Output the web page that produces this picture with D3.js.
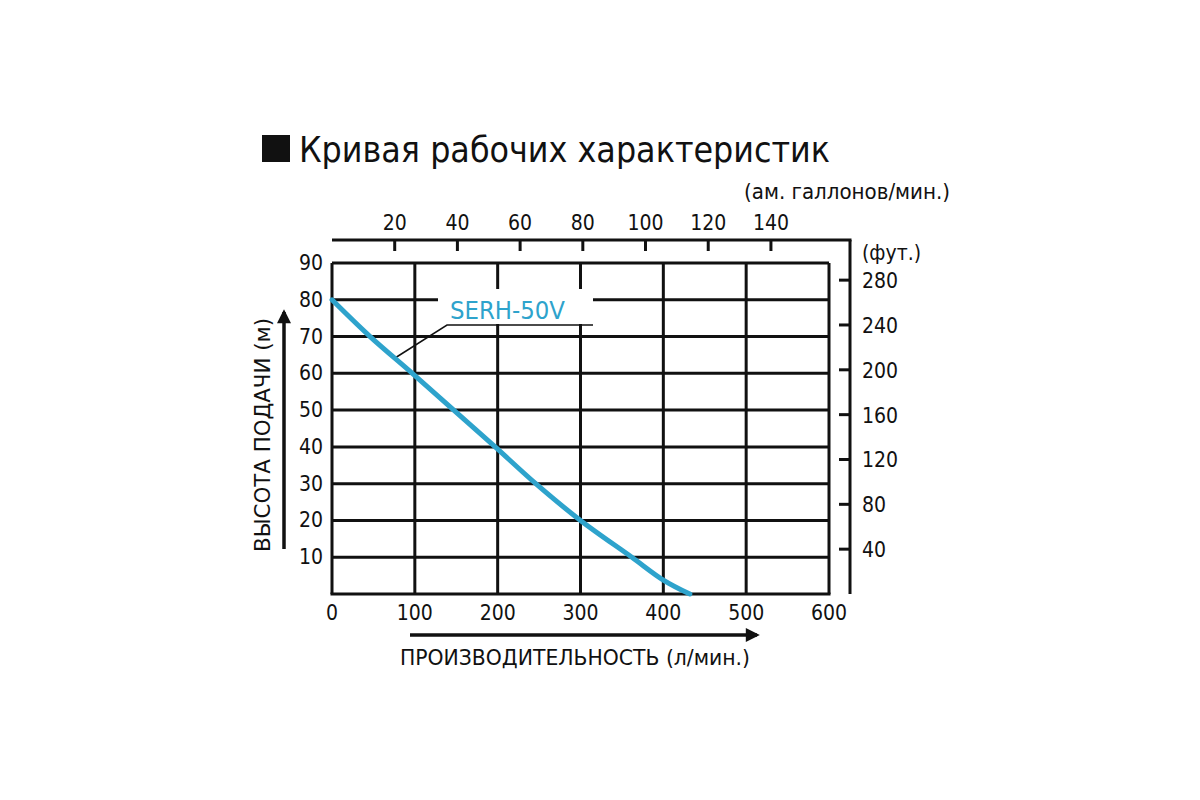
<!DOCTYPE html>
<html>
<head>
<meta charset="utf-8">
<script src="https://cdn.jsdelivr.net/npm/d3@7"></script>
<style>
  html, body { margin: 0; padding: 0; background: #fff; }
  svg text { font-family: "Liberation Sans Narrow", "DejaVu Sans Condensed", "Roboto Condensed", sans-serif; fill: #111; }
</style>
</head>
<body>
<div id="chart"></div>
<script>
// values
const flowLpm = [0, 46, 97, 147, 197, 246, 300, 362, 400, 432];
const headM = [80, 70, 60, 50, 40, 30, 20, 10, 3.8, 0];
const flowTicks = [0, 100, 200, 300, 400, 500, 600];
const headTicks = [10, 20, 30, 40, 50, 60, 70, 80, 90];
const galTicks = [20, 40, 60, 80, 100, 120, 140];
const feetTicks = [40, 80, 120, 160, 200, 240, 280];
const modelName = "SERH-50V";

const L_PER_GAL = 3.785;
const FT_PER_M = 3.281;

const W = 1200, H = 800;
const svg = d3.select("#chart").append("svg").attr("width", W).attr("height", H);

const x = d3.scaleLinear().domain([0, 600]).range([332, 829]);
const y = d3.scaleLinear().domain([0, 90]).range([594, 263]);
// secondary scales share the same origin
const xg = d3.scaleLinear().domain([0, 600 / L_PER_GAL]).range([332, 829]);
const yf = d3.scaleLinear().domain([0, 90 * FT_PER_M]).range([594, 263]);

const ink = "#111";
const blue = "#2ea3cc";

// title
svg.append("rect").attr("x", 262).attr("y", 135).attr("width", 28).attr("height", 27).attr("fill", ink);
svg.append("text").attr("x", 299).attr("y", 162).style("font-size", "35px")
  .attr("textLength", 531).attr("lengthAdjust", "spacingAndGlyphs")
  .text("Кривая рабочих характеристик");

// grid
const grid = svg.append("g");
grid.selectAll("line.h").data(headTicks).enter().append("line")
  .attr("x1", x(0)).attr("x2", x(600))
  .attr("y1", d => y(d)).attr("y2", d => y(d))
  .attr("stroke", ink).attr("stroke-width", 3);
grid.selectAll("line.v").data(flowTicks).enter().append("line")
  .attr("x1", d => x(d)).attr("x2", d => x(d))
  .attr("y1", y(0)).attr("y2", y(90))
  .attr("stroke", ink).attr("stroke-width", 3);
grid.append("line").attr("x1", x(0) - 1.5).attr("x2", x(600) + 1.5)
  .attr("y1", y(0)).attr("y2", y(0)).attr("stroke", ink).attr("stroke-width", 3);

// left labels (m)
svg.selectAll("text.ym").data(headTicks).enter().append("text")
  .attr("x", 323).attr("y", d => y(d) + 7)
  .attr("text-anchor", "end").style("font-size", "21px").text(d => d);

// bottom labels (l/min)
svg.selectAll("text.xl").data(flowTicks).enter().append("text")
  .attr("x", d => x(d)).attr("y", 620)
  .attr("text-anchor", "middle").style("font-size", "21px").text(d => d);

// top gallon axis
const topY = 240;
svg.append("line").attr("x1", x(0)).attr("x2", 851.5).attr("y1", topY).attr("y2", topY)
  .attr("stroke", ink).attr("stroke-width", 3);
svg.selectAll("line.gt").data(galTicks).enter().append("line")
  .attr("x1", d => xg(d)).attr("x2", d => xg(d))
  .attr("y1", topY).attr("y2", topY + 11)
  .attr("stroke", ink).attr("stroke-width", 3);
svg.selectAll("text.gl").data(galTicks).enter().append("text")
  .attr("x", d => xg(d)).attr("y", 230)
  .attr("text-anchor", "middle").style("font-size", "21px").text(d => d);
svg.append("text").attr("x", 950).attr("y", 199).attr("text-anchor", "end")
  .style("font-size", "22px").attr("textLength", 206).attr("lengthAdjust", "spacingAndGlyphs")
  .text("(ам. галлонов/мин.)");

// right feet axis
const rightX = 850;
svg.append("line").attr("x1", rightX).attr("x2", rightX).attr("y1", topY).attr("y2", y(0))
  .attr("stroke", ink).attr("stroke-width", 3);
svg.selectAll("line.ft").data(feetTicks).enter().append("line")
  .attr("x1", rightX - 11).attr("x2", rightX)
  .attr("y1", d => yf(d)).attr("y2", d => yf(d))
  .attr("stroke", ink).attr("stroke-width", 3);
svg.selectAll("text.fl").data(feetTicks).enter().append("text")
  .attr("x", 862).attr("y", d => yf(d) + 8)
  .style("font-size", "21px").text(d => d);
svg.append("text").attr("x", 862).attr("y", 260).style("font-size", "21px").text("(фут.)");

// model label with white backing (cuts the grid)
svg.append("rect").attr("x", 438).attr("y", 289).attr("width", 155).attr("height", 35).attr("fill", "#fff");
svg.append("text").attr("x", 450).attr("y", 319).style("font-size", "25px")
  .attr("textLength", 115).attr("lengthAdjust", "spacingAndGlyphs")
  .style("fill", blue).text(modelName);
svg.append("polyline")
  .attr("points", "593,325 447,325 395,358")
  .attr("fill", "none").attr("stroke", ink).attr("stroke-width", 1.5);

// curve
const pts = flowLpm.map((f, i) => [f, headM[i]]);
svg.append("path").datum(pts)
  .attr("d", d3.line().x(d => x(d[0])).y(d => y(d[1])).curve(d3.curveCatmullRom.alpha(0.5)))
  .attr("fill", "none").attr("stroke", blue).attr("stroke-width", 5).attr("stroke-linecap", "round");

// axis arrows
const defs = svg.append("defs");
defs.append("marker").attr("id", "ah").attr("viewBox", "0 0 10 10")
  .attr("refX", 8).attr("refY", 5).attr("markerWidth", 6).attr("markerHeight", 4)
  .attr("markerUnits", "strokeWidth").attr("orient", "auto")
  .append("path").attr("d", "M0,0 L10,5 L0,10 z").attr("fill", ink);

svg.append("line").attr("x1", 284).attr("x2", 284).attr("y1", 549).attr("y2", 312)
  .attr("stroke", ink).attr("stroke-width", 3.5).attr("marker-end", "url(#ah)");
svg.append("text").attr("transform", "translate(270,435) rotate(-90)")
  .attr("text-anchor", "middle").style("font-size", "22px")
  .attr("textLength", 234).attr("lengthAdjust", "spacingAndGlyphs")
  .text("ВЫСОТА ПОДАЧИ (м)");

svg.append("line").attr("x1", 410).attr("x2", 757).attr("y1", 635).attr("y2", 635)
  .attr("stroke", ink).attr("stroke-width", 3.5).attr("marker-end", "url(#ah)");
svg.append("text").attr("x", 575).attr("y", 665)
  .attr("text-anchor", "middle").style("font-size", "22px")
  .attr("textLength", 350).attr("lengthAdjust", "spacingAndGlyphs")
  .text("ПРОИЗВОДИТЕЛЬНОСТЬ (л/мин.)");
</script>
</body>
</html>
